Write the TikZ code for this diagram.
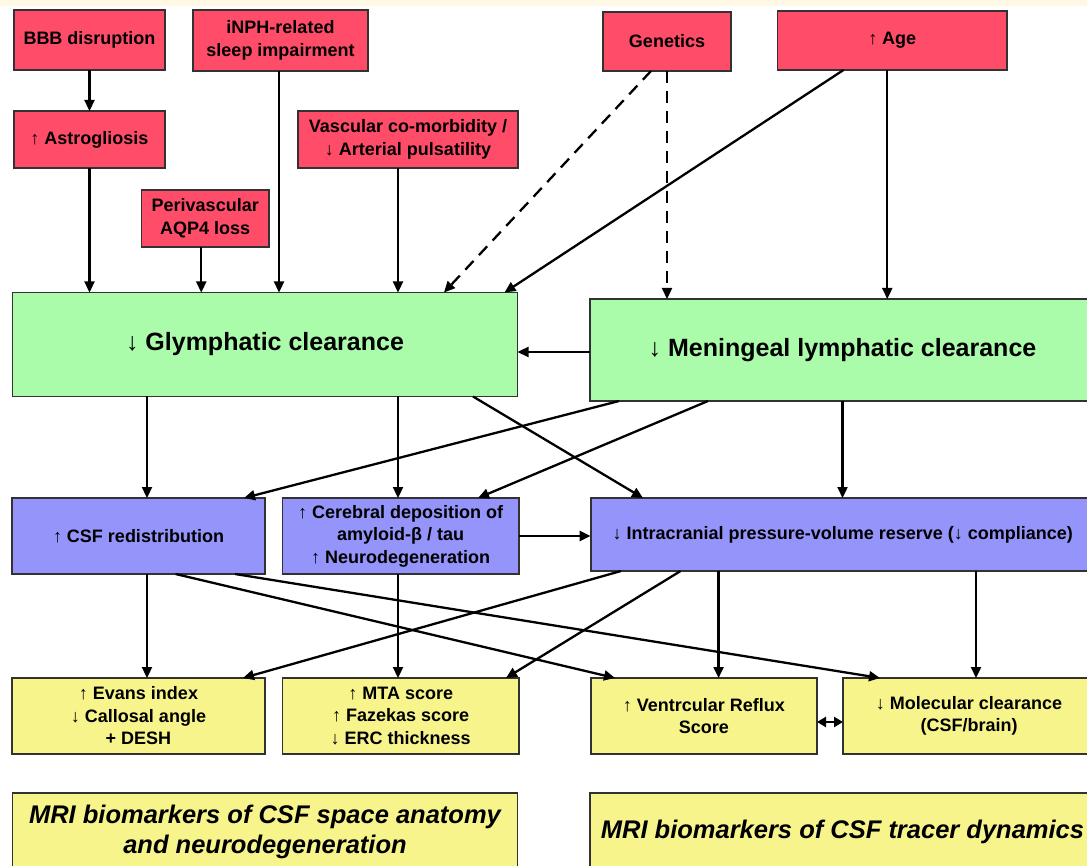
\documentclass[tikz,border=0pt]{standalone}
\usepackage{fontspec}
\setmainfont{Liberation Sans}
\usetikzlibrary{arrows.meta}
\definecolor{redbox}{RGB}{255,76,104}
\definecolor{greenbox}{RGB}{170,252,170}
\definecolor{purplebox}{RGB}{148,148,250}
\definecolor{yellowbox}{RGB}{248,244,140}
\definecolor{boxline}{RGB}{50,50,50}
\definecolor{cream}{RGB}{255,248,228}
\begin{document}
\begin{tikzpicture}[x=1pt,y=-1pt,
  box/.style={draw=boxline, line width=1.8pt, inner sep=0pt, outer sep=0pt,
    anchor=north west, align=center, font=\bfseries\fontsize{18}{22.5}\selectfont},
  redb/.style={box, fill=redbox},
  greenb/.style={box, fill=greenbox, font=\bfseries\fontsize{25}{30}\selectfont},
  purpleb/.style={box, fill=purplebox},
  yellowb/.style={box, fill=yellowbox},
  bottomb/.style={box, fill=yellowbox, font=\bfseries\itshape\fontsize{25.5}{30}\selectfont},
  arr/.style={draw=black, line width=2.3pt, -{Triangle[length=11pt,width=10pt]}},
  dsh/.style={arr, dash pattern=on 12pt off 8pt},
  dbl/.style={draw=black, line width=2.3pt, {Triangle[length=9pt,width=10pt]}-{Triangle[length=9pt,width=10pt]}}]
\useasboundingbox (0,0) rectangle (1087,866);
\clip (0,0) rectangle (1087,866);
\fill[white] (0,0) rectangle (1087,866);
\fill[cream] (0,0) rectangle (1087,6);

% red boxes
\node[redb, minimum width=151pt, minimum height=60pt] (bbb) at (14,10) {BBB disruption};
\node[redb, minimum width=175pt, minimum height=61pt] (inph) at (193,10) {iNPH-related\\sleep impairment};
\node[redb, minimum width=151pt, minimum height=57pt] (astro) at (14,111) {↑ Astrogliosis};
\node[redb, minimum width=220pt, minimum height=57pt] (vasc) at (298,111) {Vascular co-morbidity /\\↓ Arterial pulsatility};
\node[redb, minimum width=127.5pt, minimum height=57pt] (peri) at (141.5,190) {Perivascular\\AQP4 loss};
\node[redb, minimum width=128pt, minimum height=59pt] (gen) at (603,12) {Genetics};
\node[redb, minimum width=229.5pt, minimum height=59pt] (age) at (777.5,11) {↑ Age};

% green boxes
\node[greenb, minimum width=505pt, minimum height=104pt] (glym) at (12.5,292.5) {↓ Glymphatic clearance};
\node[greenb, minimum width=505pt, minimum height=102pt] (men) at (590,299) {↓ Meningeal lymphatic clearance};

% purple boxes
\node[purpleb, minimum width=253pt, minimum height=76pt] (csf) at (12,498) {↑ CSF redistribution};
\node[purpleb, minimum width=236.6pt, minimum height=76pt] (cer) at (282.4,498) {↑ Cerebral deposition of\\amyloid-β / tau\\↑ Neurodegeneration};
\node[purpleb, minimum width=504.4pt, minimum height=73pt] (icp) at (590.6,498) {↓ Intracranial pressure-volume reserve (↓ compliance)};

% yellow boxes
\node[yellowb, minimum width=253pt, minimum height=76pt] (evans) at (12,678) {↑ Evans index\\↓ Callosal angle\\+ DESH};
\node[yellowb, minimum width=236.6pt, minimum height=76pt] (mta) at (282.4,678) {↑ MTA score\\↑ Fazekas score\\↓ ERC thickness};
\node[yellowb, minimum width=226.4pt, minimum height=76pt] (vent) at (590.6,678) {↑ Ventrcular Reflux\\Score};
\node[yellowb, minimum width=252pt, minimum height=76pt] (mol) at (843,678) {↓ Molecular clearance\\(CSF/brain)};

% bottom boxes
\node[bottomb, minimum width=505pt, minimum height=78pt] (bl) at (12.5,793) {MRI biomarkers of CSF space anatomy\\and neurodegeneration};
\node[bottomb, minimum width=505pt, minimum height=78pt] (br) at (590,793) {MRI biomarkers of CSF tracer dynamics};

% arrows into glymphatic / meningeal
\draw[arr] (bbb.south) -- (astro.north);
\draw[arr] (astro.south) -- (astro.south |- glym.north);
\draw[arr] ([xshift=-4pt]peri.south) -- ([xshift=-4pt]peri.south |- glym.north);
\draw[arr] ([xshift=-1.5pt]inph.south) -- ([xshift=-1.5pt]inph.south |- glym.north);
\draw[arr] ([xshift=-10pt]vasc.south) -- ([xshift=-10pt]vasc.south |- glym.north);
\draw[dsh] ([xshift=48pt]gen.south west) -- ([xshift=-73.5pt]glym.north east);
\draw[dsh] (gen.south) -- (gen.south |- men.north);
\draw[arr] ([xshift=66pt]age.south west) -- ([xshift=-13pt]glym.north east);
\draw[arr] ([xshift=-5pt]age.south) -- ([xshift=-5pt]age.south |- men.north);
\draw[arr] ([yshift=-2pt]men.west) -- ([yshift=-2pt]men.west -| glym.east);

% arrows into purple row
\draw[arr] ([xshift=134.5pt]glym.south west) -- ([xshift=134.5pt]glym.south west |- csf.north);
\draw[arr] ([xshift=385.5pt]glym.south west) -- ([xshift=385.5pt]glym.south west |- cer.north);
\draw[arr] ([xshift=460.5pt]glym.south west) -- ([xshift=52.4pt]icp.north west);
\draw[arr] ([xshift=29pt]men.south west) -- ([xshift=-21pt]csf.north east);
\draw[arr] ([xshift=118pt]men.south west) -- ([xshift=-41pt]cer.north east);
\draw[arr] (men.south) -- (men.south |- icp.north);
\draw[arr] (cer.east) -- (cer.east -| icp.west);

% arrows into yellow row
\draw[arr] ([xshift=135pt]csf.south west) -- ([xshift=135pt]csf.south west |- evans.north);
\draw[arr] ([xshift=115.6pt]cer.south west) -- ([xshift=115.6pt]cer.south west |- mta.north);
\draw[arr] ([xshift=163.6pt]csf.south west) -- ([xshift=24.4pt]vent.north west);
\draw[arr] ([xshift=223pt]csf.south west) -- ([xshift=37pt]mol.north west);
\draw[arr] ([xshift=30.4pt]icp.south west) -- ([xshift=-22pt]evans.north east);
\draw[arr] ([xshift=90pt]icp.south west) -- ([xshift=-13pt]mta.north east);
\draw[arr] ([xshift=128pt]icp.south west) -- ([xshift=128pt]icp.south west |- vent.north);
\draw[arr] ([xshift=133pt]mol.north west |- icp.south) -- ([xshift=133pt]mol.north west);
\draw[dbl] ([yshift=-6pt]vent.east) -- ([yshift=-6pt]vent.east -| mol.west);
\end{tikzpicture}
\end{document}
